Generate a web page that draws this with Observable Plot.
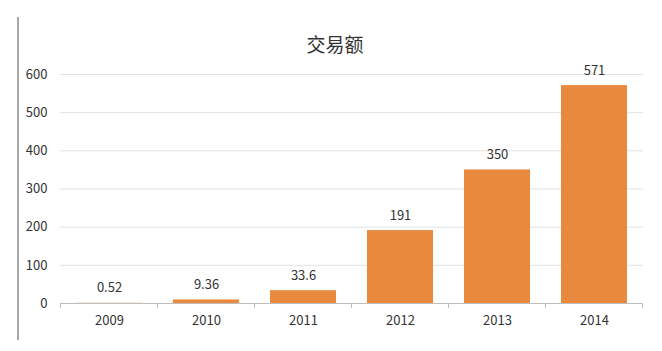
<!DOCTYPE html>
<html>
<head>
<meta charset="utf-8">
<script src="https://cdn.jsdelivr.net/npm/d3@7"></script>
<script src="https://cdn.jsdelivr.net/npm/@observablehq/plot@0.6"></script>
<style>
  html, body { margin: 0; padding: 0; background: #fff; }
  #wrap { position: relative; width: 662px; height: 351px; overflow: hidden; font-family: "Noto Sans CJK SC", "Noto Sans", sans-serif; }
  #title { height: 60px; box-sizing: border-box; padding-top: 31px; padding-left: 8px; text-align: center; font-size: 19px; line-height: 26px; color: #333; }
  #edge { position: absolute; left: 17px; top: 17px; width: 1.5px; height: 323px; background: #a8a8a8; }
  #chart svg { display: block; }
</style>
</head>
<body>
<div id="wrap">
  <div id="edge"></div>
  <div id="title">交易额</div>
  <div id="chart"></div>
</div>
<script>
const years = ["2009", "2010", "2011", "2012", "2013", "2014"];
const values = [0.52, 9.36, 33.6, 191, 350, 571];
const valueLabels = ["0.52", "9.36", "33.6", "191", "350", "571"];
const yTicks = [0, 100, 200, 300, 400, 500, 600];

const data = years.map((y, i) => ({year: y, value: values[i], label: valueLabels[i]}));

const plot = Plot.plot({
  width: 662,
  height: 291,
  marginTop: 14,
  marginBottom: 48,
  marginLeft: 60,
  marginRight: 19,
  style: {fontFamily: "'Noto Sans CJK SC', 'Noto Sans', sans-serif", fontSize: "13px", color: "#333", background: "transparent"},
  x: {domain: years, paddingInner: 0.32, paddingOuter: 0.16, label: null, tickSize: 0, tickPadding: 12},
  y: {domain: [0, 600], ticks: yTicks, label: null, tickSize: 0, tickPadding: 13},
  marks: [
    Plot.ruleY(yTicks.filter(d => d > 0), {stroke: "#e2e2e2", strokeWidth: 1}),
    Plot.barY(data, {x: "year", y: "value", fill: "#E8893F"}),
    Plot.ruleY([0], {stroke: "#bdbdbd", strokeWidth: 1}),
    Plot.text(data, {x: "year", y: "value", text: "label", lineAnchor: "bottom", dy: -11, fill: "#333", fontSize: 13})
  ]
});

document.getElementById("chart").appendChild(plot);

// category boundary ticks below the baseline (as in the reference)
const xs = plot.scale("x");
const ys = plot.scale("y");
const half = xs.step / 2;
const bounds = years.map(y => xs.apply(y) + xs.bandwidth / 2 - half).concat([xs.apply(years[years.length - 1]) + xs.bandwidth / 2 + half]);
const y0 = ys.apply(0);
d3.select(plot).append("g")
  .attr("stroke", "#bdbdbd")
  .selectAll("line")
  .data(bounds)
  .join("line")
  .attr("x1", d => d).attr("x2", d => d)
  .attr("y1", y0).attr("y2", y0 + 5);
</script>
</body>
</html>
